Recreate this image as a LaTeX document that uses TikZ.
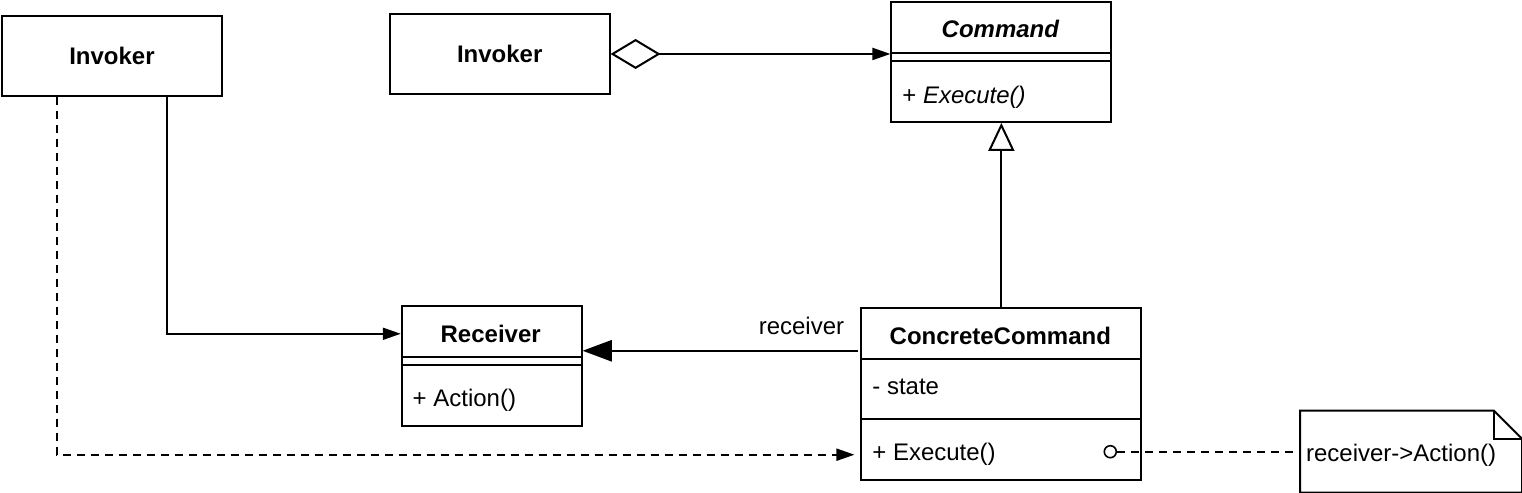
\documentclass[tikz,border=0pt]{standalone}
\usepackage{fontspec}
\setmainfont{Liberation Sans}
\usetikzlibrary{arrows.meta}
\begin{document}
\begin{tikzpicture}[x=0.75pt,y=-0.75pt,line width=1.5pt,
    font=\fontsize{18}{21}\selectfont,
    box/.style={draw,rectangle,anchor=north west,inner sep=0pt},
    head/.style={font=\fontsize{18}{21}\selectfont\bfseries},
    txt/.style={anchor=west,inner sep=0pt},
    blk/.style={-{Triangle[length=13.5pt,width=9pt]}},
    dsh/.style={dash pattern=on 6pt off 4.5pt}]
\useasboundingbox (0,0) rectangle (1523,493);
% the two invokers
\node[box,head,minimum width=165pt,minimum height=60pt] (inv1) at (1,15) {Invoker};
\node[box,head,minimum width=165pt,minimum height=60pt] (inv2) at (389,13) {Invoker};
% command
\node[box,minimum width=165pt,minimum height=90pt] (cmd) at (891,1) {};
\node[head,font=\fontsize{18}{21}\selectfont\bfseries\itshape] (cmdname) at (1001,29) {Command};
\draw (891,53) -- (1111,53) (891,61) -- (1111,61);
\node[txt] (cmdop) at (902,97) {+ \textit{Execute()}};
% receiver
\node[box,minimum width=135pt,minimum height=90pt] (recv) at (401,305) {};
\node[head] (recvname) at (491,334) {Receiver};
\draw (401,357) -- (581,357) (401,365) -- (581,365);
\node[txt] (recvop) at (412,401) {+ Action()};
% concrete command
\node[box,minimum width=210pt,minimum height=129pt] (cc) at (861,307) {};
\node[head] (ccname) at (1001,336) {ConcreteCommand};
\draw (861,359) -- (1141,359) (861,419) -- (1141,419);
\node[txt] (ccattr) at (872,387) {- state};
\node[txt] (ccop) at (872,455) {+ Execute()};
\node[draw,circle,minimum size=9pt,inner sep=0pt,line width=1.2pt] (port) at (1111,452) {};
% note
\node[rectangle,anchor=north west,minimum width=165pt,minimum height=60pt,inner sep=0pt] (note) at (1301,411) {};
\draw (note.north west) -- ([xshift=-21pt]note.north east) -- ([yshift=-21pt]note.north east)
    -- (note.south east) -- (note.south west) -- cycle;
\draw ([xshift=-21pt]note.north east) -- ([xshift=-21pt,yshift=-21pt]note.north east)
    -- ([yshift=-21pt]note.north east);
\node[txt] (notetxt) at (1306,456) {receiver->Action()};
% connectors
\draw[{Diamond[open,length=37.5pt,width=22.5pt]}-{Triangle[length=13.5pt,width=9pt]}]
    (inv2.east) -- (inv2.east -| cmd.west);
\draw[-{Triangle[open,length=21pt,width=19.5pt]}] (cc.north) -- (cmd.south);
\draw[blk] ([xshift=41.25pt]inv1.south) |- (recvname -| recv.west);
\draw[blk,dsh,shorten >=4.5pt] ([xshift=-41.25pt]inv1.south) |- (ccop -| cc.west);
\coordinate (ccin) at ([yshift=-33pt]cc.north west);
\draw[-{Triangle[length=22pt,width=16pt]},shorten <=1.5pt] (ccin) -- (ccin -| recv.east);
\node (rlabel) at (802,326) {receiver};
\draw[dsh] (port) -- (port -| note.west);
\end{tikzpicture}
\end{document}
